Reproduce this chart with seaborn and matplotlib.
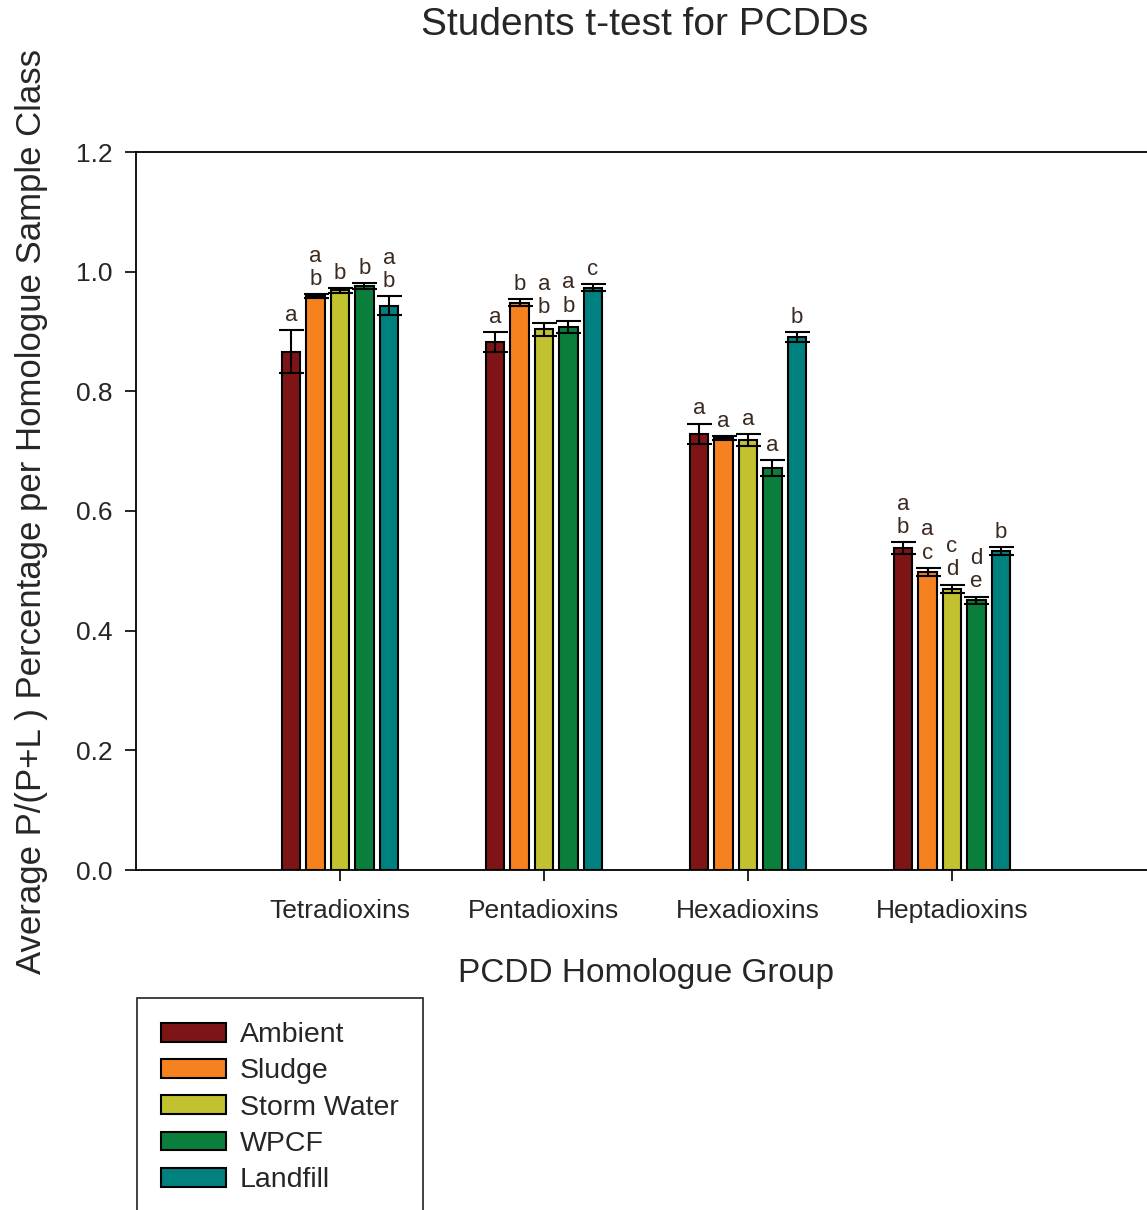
import pandas as pd
import matplotlib
matplotlib.use('Agg')
import matplotlib.pyplot as plt
import seaborn as sns

sns.set_style('ticks')
plt.rcParams['font.family'] = ['Liberation Sans', 'DejaVu Sans']

# ===============================
# Data
# ===============================
groups = ['Tetradioxins', 'Pentadioxins', 'Hexadioxins', 'Heptadioxins']
classes = ['Ambient', 'Sludge', 'Storm Water', 'WPCF', 'Landfill']

ambient = [0.866, 0.882, 0.729, 0.538]
sludge = [0.959, 0.948, 0.722, 0.498]
storm_water = [0.969, 0.904, 0.719, 0.470]
wpcf = [0.976, 0.908, 0.672, 0.451]
landfill = [0.943, 0.973, 0.891, 0.533]

ambient_err = [0.036, 0.017, 0.017, 0.010]
sludge_err = [0.003, 0.006, 0.003, 0.007]
storm_water_err = [0.004, 0.011, 0.010, 0.007]
wpcf_err = [0.005, 0.010, 0.013, 0.006]
landfill_err = [0.016, 0.006, 0.008, 0.006]

ambient_sig = ['a', 'a', 'a', 'a\nb']
sludge_sig = ['a\nb', 'b', 'a', 'a\nc']
storm_water_sig = ['b', 'a\nb', 'a', 'c\nd']
wpcf_sig = ['b', 'a\nb', 'a', 'd\ne']
landfill_sig = ['a\nb', 'c', 'b', 'b']

colors = ['#7E1416', '#F5821F', '#C2C12F', '#0A7F3B', '#00807F']

values = [ambient, sludge, storm_water, wpcf, landfill]
errors = [ambient_err, sludge_err, storm_water_err, wpcf_err, landfill_err]
letters = [ambient_sig, sludge_sig, storm_water_sig, wpcf_sig, landfill_sig]

df = pd.DataFrame({
    'Group': groups * len(classes),
    'Class': [c for c in classes for _ in groups],
    'Value': [v for vals in values for v in vals],
})

# ===============================
# Plot
# ===============================
fig = plt.figure(figsize=(11.47, 12.10), dpi=100)
ax = fig.add_axes([136 / 1147, 340 / 1210, 1020 / 1147, 718 / 1210])

sns.barplot(data=df, x='Group', y='Value', hue='Class', order=groups,
            hue_order=classes, palette=colors, width=0.6, gap=0.25,
            errorbar=None, edgecolor='black', linewidth=1.5, saturation=1,
            ax=ax)

# error bars and significance letters on top of each bar
for cont, errs, sigs in zip(ax.containers, errors, letters):
    for bar, err, sig in zip(cont.patches, errs, sigs):
        xc = bar.get_x() + bar.get_width() / 2
        h = bar.get_height()
        ax.errorbar(xc, h, yerr=err, color='black', capsize=9,
                    elinewidth=1.5, capthick=1.5, zorder=5)
        ax.annotate(sig, (xc, h + err), xytext=(0, 3),
                    textcoords='offset points', ha='center', va='bottom',
                    fontsize=16, color='#3a2a20', linespacing=1.15)

ax.set_xlim(-1, 4)
ax.set_ylim(0, 1.2)
ax.set_yticks([0.0, 0.2, 0.4, 0.6, 0.8, 1.0, 1.2])
ax.set_yticklabels(['0.0', '0.2', '0.4', '0.6', '0.8', '1.0', '1.2'])
ax.tick_params(axis='both', direction='out', length=8, width=1.2,
               labelsize=19, color='black')
ax.tick_params(axis='x', pad=13)
ax.tick_params(axis='y', pad=9)
for s in ['left', 'bottom', 'top']:
    ax.spines[s].set_linewidth(1.3)
    ax.spines[s].set_color('black')
ax.spines['right'].set_visible(False)

ax.set_xlabel('PCDD Homologue Group', fontsize=24, labelpad=25)
ax.set_ylabel('Average P/(P+L ) Percentage per Homologue Sample Class',
              fontsize=25)
ax.yaxis.set_label_coords(-0.086, 0.5)

fig.suptitle('Students t-test for PCDDs', x=645 / 1147, y=1 - 25 / 1210,
             va='center', fontsize=28)

ax.get_legend().remove()
handles = [plt.Rectangle((0, 0), 1, 1, facecolor=c, edgecolor='black',
                         linewidth=1.5) for c in colors]
fig.legend(handles, classes, loc='upper left',
           bbox_to_anchor=(137 / 1147, 1 - 998 / 1210), fontsize=20.5,
           frameon=True, fancybox=False, edgecolor='black',
           handlelength=2.28, handleheight=0.63, labelspacing=0.36,
           handletextpad=0.49, borderpad=0.85, borderaxespad=0)
fig.legends[0].get_frame().set_linewidth(1.3)

plt.savefig('out.png', dpi=100)
